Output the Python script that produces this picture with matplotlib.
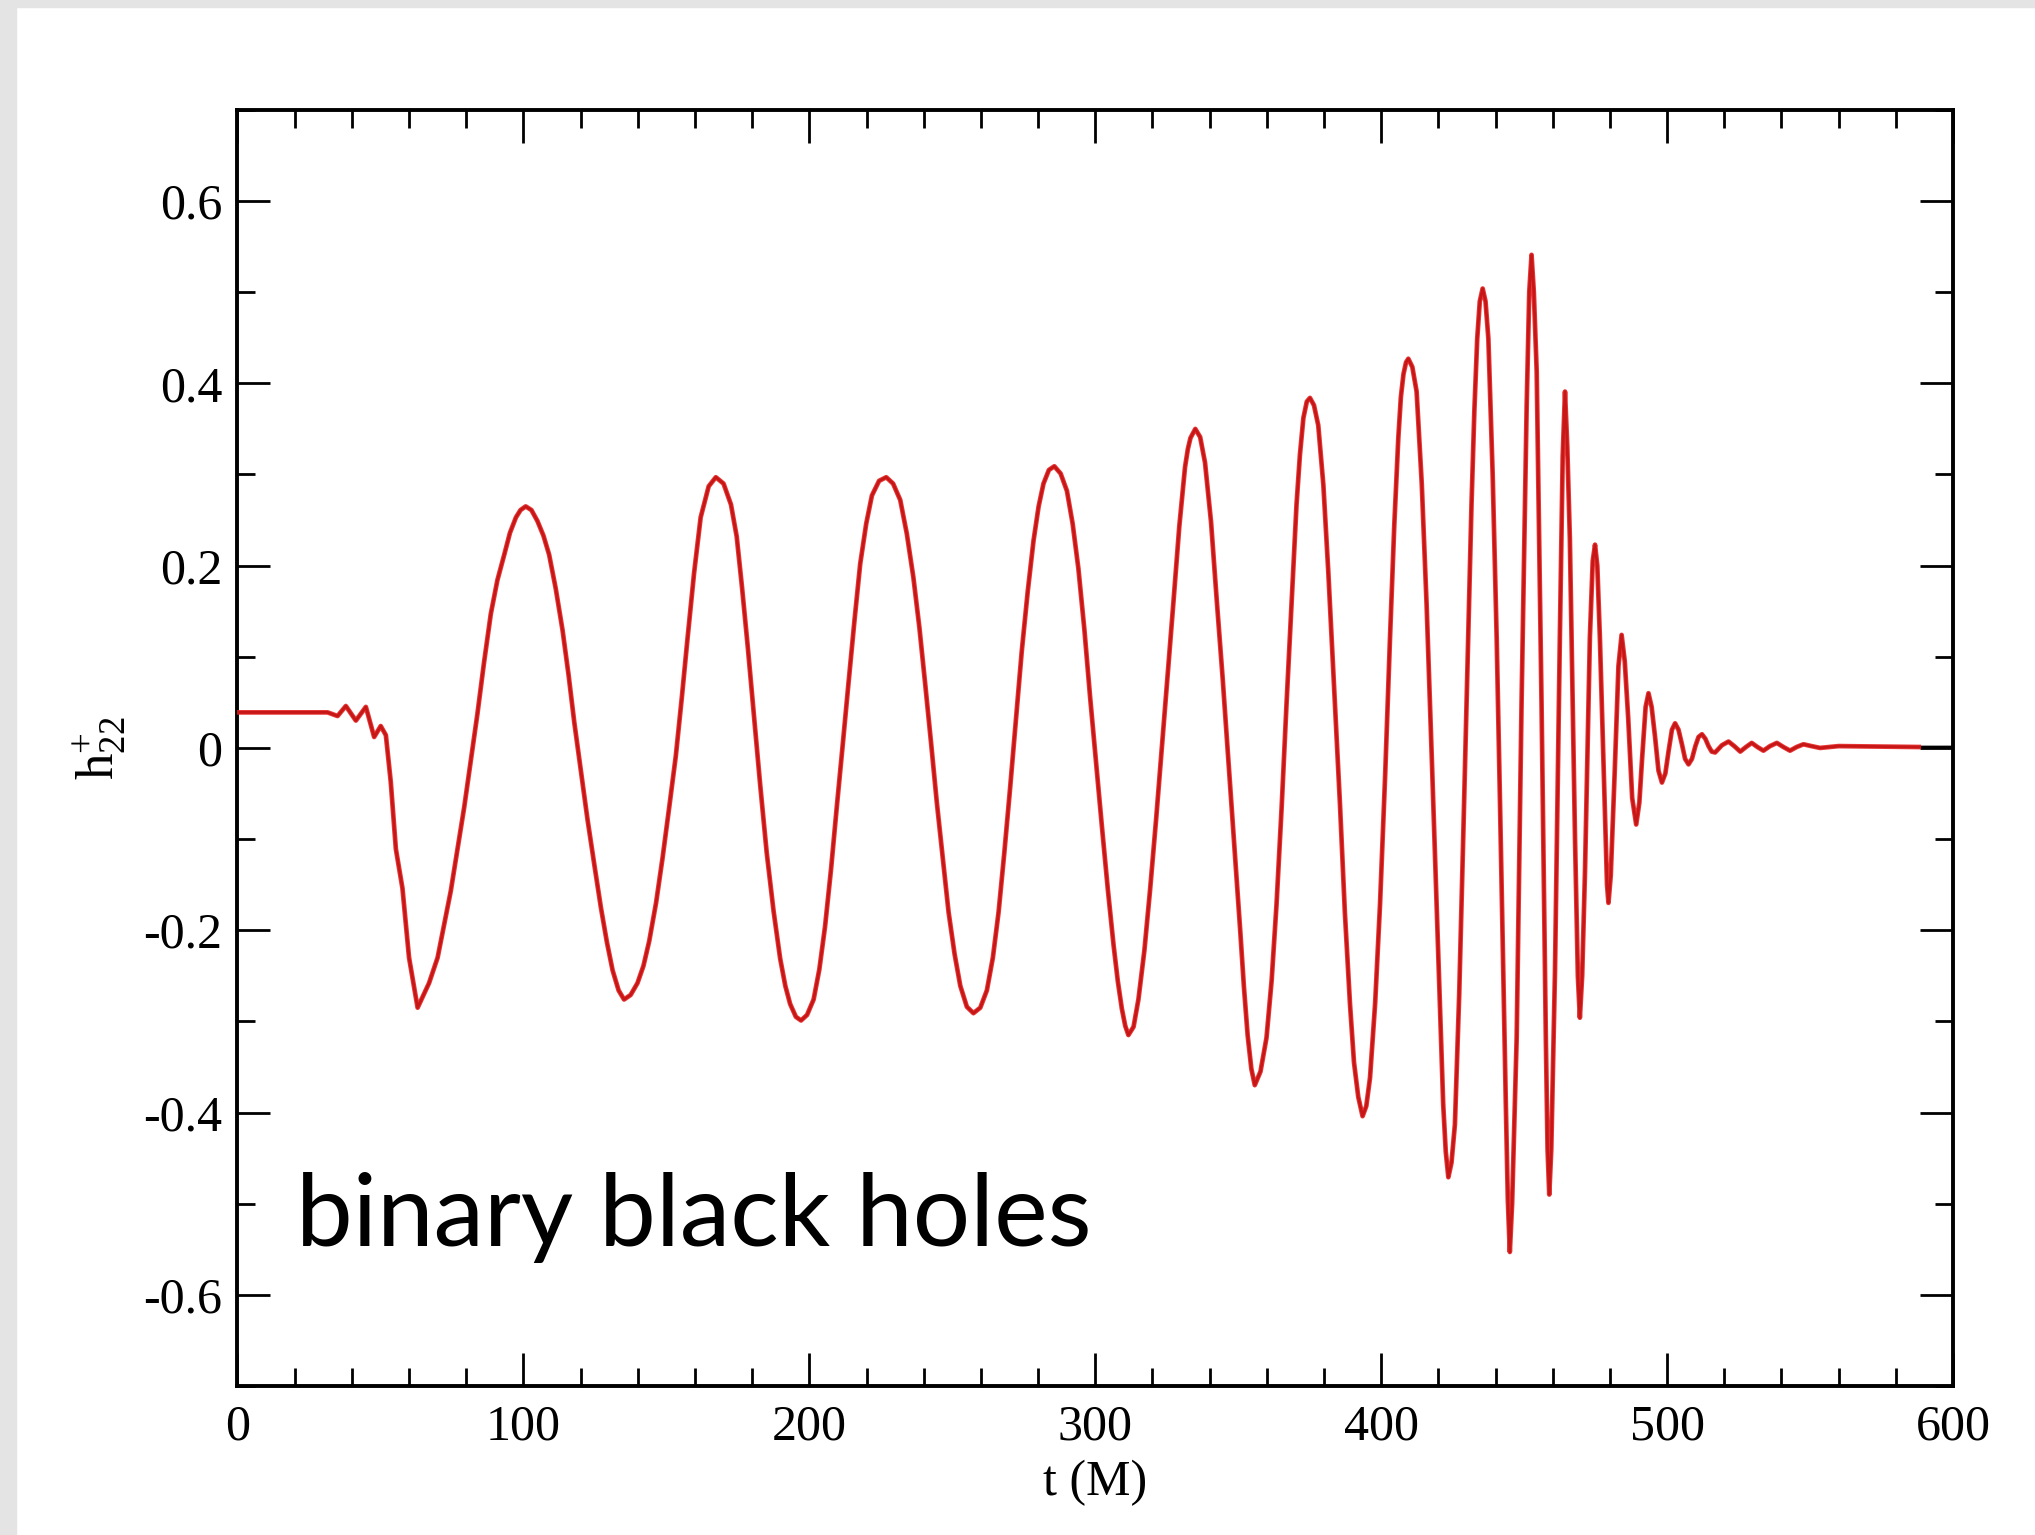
import numpy as np
import matplotlib.pyplot as plt
from matplotlib.ticker import MultipleLocator, FuncFormatter
from matplotlib.patches import Rectangle

plt.rcParams['font.family'] = ['Liberation Serif', 'DejaVu Serif']
plt.rcParams['mathtext.fontset'] = 'custom'
plt.rcParams['mathtext.rm'] = 'Liberation Serif'
plt.rcParams['mathtext.it'] = 'Liberation Serif:italic'
plt.rcParams['axes.unicode_minus'] = False

# h+_22 waveform, values (t in M)
t_inspiral = [0, 31.5, 35, 37.9, 41.4, 44.9, 47.8, 50.1, 51.9, 53.6, 55.4, 57.7,
              60.0, 63.0, 67.0, 70.0, 74.6, 76.9, 79.3, 81.6, 83.9, 86.2, 88.6, 90.9,
              93.3, 95.3, 97.4, 99.0, 100.8,
              102.8, 104.9, 107, 109, 111.3, 113.7, 115.8, 117.8, 120.1, 122.4, 124.8,
              127.1, 129.2, 131.2, 133.3, 135.2,
              137.5, 139.9, 142, 144, 146.4, 148.7, 151, 153.3, 155.4, 157.4, 159.7,
              162, 164.8, 167.3,
              170, 172.6, 174.6, 176.5, 178.5, 180.5, 182.8, 185.1, 187.5, 189.8, 191.6,
              193.3, 195.3, 197.1,
              199.2, 201.5, 203.5, 205.5, 207.6, 209.6, 211.7, 213.7, 215.8, 217.8, 219.9,
              221.9, 224.4, 226.9,
              229.3, 231.8, 234.1, 236.4, 238.5, 240.5, 242.6, 244.6, 246.7, 248.7, 250.8,
              252.8, 255.1, 257.4,
              259.8, 262.1, 264.2, 266.2, 268.2, 270.2, 272.3, 274.3, 276.4, 278.4, 280.2,
              281.9, 283.8, 285.7,
              287.9, 290.1, 292.1, 294.1, 296.2, 298.2, 300.3, 302.3, 304.4, 306.4, 307.9,
              309.3, 310.5, 311.6,
              313.4, 315.1, 317.2, 319.2, 321.3, 323.3, 325.4, 327.4, 329.4, 331.4, 332.4,
              333.3, 335,
              336.7, 338.4, 340.5, 342.5, 344.6, 346.6, 348.7, 350.7, 352, 353.3, 354.6]
h_inspiral = [0.039, 0.039, 0.035, 0.046, 0.030, 0.045, 0.012, 0.024, 0.014, -0.037, -0.111, -0.154,
              -0.230, -0.285, -0.258, -0.230, -0.157, -0.112, -0.065, -0.014, 0.037, 0.093, 0.147, 0.184,
              0.212, 0.236, 0.253, 0.261, 0.265,
              0.261, 0.249, 0.233, 0.212, 0.175, 0.129, 0.080, 0.028, -0.025, -0.078, -0.128,
              -0.175, -0.213, -0.244, -0.266, -0.276,
              -0.271, -0.258, -0.239, -0.212, -0.170, -0.120, -0.065, -0.009, 0.055, 0.120, 0.192,
              0.253, 0.287, 0.297,
              0.290, 0.267, 0.232, 0.175, 0.110, 0.040, -0.040, -0.115, -0.179, -0.231, -0.261,
              -0.281, -0.295, -0.299,
              -0.293, -0.276, -0.243, -0.196, -0.133, -0.065, 0.004, 0.071, 0.140, 0.202, 0.246,
              0.277, 0.293, 0.297,
              0.290, 0.272, 0.235, 0.187, 0.132, 0.071, 0.005, -0.060, -0.122, -0.180, -0.226,
              -0.261, -0.284, -0.291,
              -0.285, -0.266, -0.230, -0.180, -0.115, -0.045, 0.032, 0.106, 0.172, 0.227, 0.265,
              0.290, 0.305, 0.309,
              0.301, 0.282, 0.246, 0.197, 0.130, 0.056, -0.016, -0.085, -0.155, -0.216, -0.256,
              -0.286, -0.305, -0.315,
              -0.306, -0.276, -0.222, -0.155, -0.078, 0.000, 0.083, 0.162, 0.243, 0.308, 0.328,
              0.340, 0.350,
              0.341, 0.313, 0.248, 0.162, 0.075, -0.015, -0.110, -0.200, -0.262, -0.315, -0.352]

t_merger = [355.8, 357.8, 359.9, 361.7, 363.4, 365.2, 366.9, 368.7, 370.4, 371.6, 372.8, 374,
            375.1, 376.5, 378, 379.8, 381.5, 383.5, 385.6, 387.3, 389.1, 390.5, 392, 393.5,
            394.8, 396.1, 397.9, 399.6, 401.4, 403.1, 404.6, 406, 406.9, 407.8, 408.7, 409.5,
            410.9, 412.4, 414.2, 415.9, 417.7, 419.4, 420.6, 421.7, 422.6, 423.5,
            424.6, 425.8, 427.3, 428.7, 430.2, 431.6, 432.6, 433.6, 434.5, 435.5,
            436.5, 437.5, 439, 440.4, 441.6, 442.7, 443.6, 444.3, 445, 445.8,
            447.4, 449.1, 450.9, 451.8, 452.6, 453.4, 454.4, 456.1, 457.6, 458.2, 458.8,
            459.5, 460.8, 462.5, 463.5, 464.3, 465.1, 466, 467.8, 468.8, 469.5, 470.3,
            471.3, 473, 474, 474.8, 475.6, 476.5, 478.3, 479, 479.5, 480.3, 481.7, 483,
            484.1, 485.2, 486.4, 487.8, 489.2]
h_merger = [-0.370, -0.355, -0.318, -0.255, -0.172, -0.065, 0.048, 0.160, 0.267, 0.322, 0.362, 0.380,
            0.384, 0.376, 0.354, 0.288, 0.194, 0.070, -0.062, -0.180, -0.281, -0.345, -0.383, -0.404,
            -0.393, -0.362, -0.280, -0.172, -0.030, 0.121, 0.245, 0.340, 0.385, 0.410, 0.423, 0.427,
            0.418, 0.391, 0.290, 0.157, -0.010, -0.172, -0.290, -0.391, -0.443, -0.471,
            -0.455, -0.413, -0.270, -0.099, 0.090, 0.267, 0.370, 0.449, 0.490, 0.504,
            0.490, 0.449, 0.300, 0.121, -0.065, -0.245, -0.390, -0.495, -0.553, -0.500,
            -0.318, 0.048, 0.376, 0.500, 0.541, 0.500, 0.413, 0.048, -0.318, -0.440, -0.490,
            -0.440, -0.245, 0.121, 0.320, 0.391, 0.330, 0.230, -0.099, -0.250, -0.296, -0.250,
            -0.135, 0.121, 0.205, 0.223, 0.200, 0.121, -0.077, -0.150, -0.170, -0.140, -0.025, 0.090,
            0.124, 0.095, 0.033, -0.055, -0.084]

t_ringdown = [490.3, 491.3, 492.5, 493.5, 494.6, 495.8, 497, 498.2, 499.4, 500.5, 501.7, 502.8,
              504, 505.2, 506.3, 507.5, 508.7, 509.9, 511, 512.2, 513.4, 514.5, 515.6, 516.8,
              519.2, 521.5, 523.5, 525.6, 527.6, 529.6, 531.6, 533.7, 536, 538.4, 540.7, 543,
              545.3, 547.7, 550.5, 553.5, 560, 588, 600]
h_ringdown = [-0.060, -0.010, 0.045, 0.060, 0.045, 0.012, -0.025, -0.038, -0.028, -0.004, 0.020, 0.027,
              0.020, 0.004, -0.012, -0.018, -0.012, 0.002, 0.012, 0.015, 0.010, 0.002, -0.004, -0.005,
              0.003, 0.007, 0.002, -0.004, 0.001, 0.0055, 0.001, -0.003, 0.002, 0.0055, 0.001, -0.003,
              0.001, 0.004, 0.002, 0.000, 0.002, 0.001, 0.001]

red_end = 588  # red curve stops a bit before the black one

t = np.array(t_inspiral + t_merger + t_ringdown)
h = np.array(h_inspiral + h_merger + h_ringdown)

fig = plt.figure(figsize=(20.35, 15.35), dpi=100)
# light grey page edge
fig.patches.append(Rectangle((0, 0), 16 / 2035, 1, transform=fig.transFigure,
                             color='#e4e4e4', zorder=0))
fig.patches.append(Rectangle((0, 1 - 7 / 1535), 1, 7 / 1535, transform=fig.transFigure,
                             color='#e4e4e4', zorder=0))

ax = fig.add_axes([0.1167, 0.0971, 0.8430, 0.8313])

ax.plot(t, h, color='black', lw=2.0, zorder=2, solid_joinstyle='round')
mask = t <= red_end
ax.plot(t[mask], h[mask], color='#e31a1a', lw=3.4, alpha=0.88, zorder=3,
        solid_joinstyle='round')

ax.set_xlim(0, 600)
ax.set_ylim(-0.7, 0.7)
ax.xaxis.set_major_locator(MultipleLocator(100))
ax.xaxis.set_minor_locator(MultipleLocator(20))
ax.yaxis.set_major_locator(MultipleLocator(0.2))
ax.yaxis.set_minor_locator(MultipleLocator(0.1))
ax.yaxis.set_major_formatter(FuncFormatter(lambda v, p: '0' if abs(v) < 1e-9 else f'{v:.1f}'))

ax.tick_params(which='both', direction='in', top=True, right=True, width=2.0)
ax.tick_params(which='major', length=24, labelsize=36)
ax.tick_params(which='minor', length=13)
ax.tick_params(axis='x', pad=13)
ax.tick_params(axis='y', pad=11)
for sp in ax.spines.values():
    sp.set_linewidth(2.8)

ax.set_xlabel('t (M)', fontsize=36)
ax.set_ylabel(r'$\mathrm{h}^{+}_{22}$', fontsize=38)
ax.xaxis.set_label_coords(0.5, -0.058)
ax.yaxis.set_label_coords(-0.063, 0.5)

ax.text(20.5, -0.547, 'binary black holes', fontsize=73, family=['Lato', 'DejaVu Sans'],
        ha='left', va='baseline', color='black')

fig.savefig('out.png', dpi=100)
